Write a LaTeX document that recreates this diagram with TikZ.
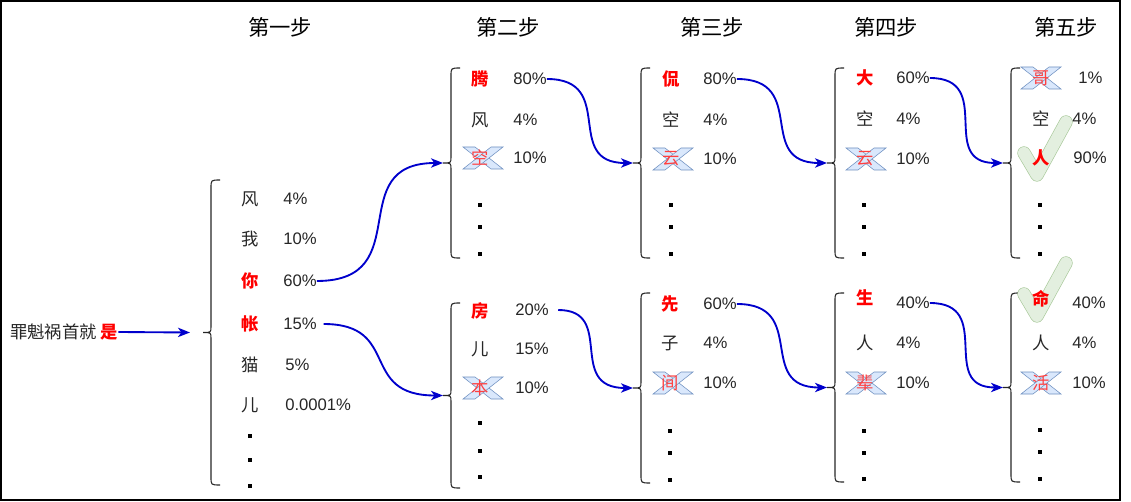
\documentclass[tikz,border=0pt]{standalone}
\usepackage{fontspec}
\setmainfont{Liberation Sans}
\newfontfamily\cjk{Noto Sans CJK SC}
\usetikzlibrary{arrows.meta}
\definecolor{linkblue}{HTML}{0000CC}
\definecolor{xfill}{HTML}{DAE8FC}
\definecolor{xline}{HTML}{6C8EBF}
\definecolor{okfill}{HTML}{E3EFDF}
\definecolor{okline}{HTML}{A9C99B}
\tikzset{
	head/.style={font=\cjk\fontsize{16}{16}\selectfont, inner sep=0},
	word/.style={font=\cjk\fontsize{13}{13}\selectfont, inner sep=0, text=black!85},
	hit/.style={word, text=red, font=\cjk\bfseries\fontsize{13}{13}\selectfont},
	gone/.style={word, text=red!75},
	pct/.style={font=\fontsize{12.5}{12.5}\selectfont, anchor=west, inner sep=0, text=black!85},
	dot/.style={fill=black, inner sep=0, minimum size=3pt},
	brc/.style={line width=0.8pt, black!85},
	link/.style={linkblue, line width=1.4pt, looseness=1.5, -{Stealth[length=9pt,width=7pt,inset=2.5pt]}},
	xband/.pic={
		\filldraw[fill=xfill, draw=xline, line width=0.4pt] (-20,-11) -- (-8,-11) -- (20,11) -- (8,11) -- cycle;
		\filldraw[fill=xfill, draw=xline, line width=0.4pt] (20,-11) -- (8,-11) -- (-20,11) -- (-8,11) -- cycle;
	},
	tick/.pic={
		\draw[okline, line width=10pt, line cap=round, line join=round] (-17,-5) -- (-4,17) -- (25,-36);
		\draw[okfill, line width=9pt, line cap=round, line join=round] (-17,-5) -- (-4,17) -- (25,-36);
	}
}
% left curly brace: tip name, x of line, top y, bottom y
\newcommand{\curly}[4]{%
	\draw[brc] (#2+9,#3) .. controls (#2,#3) .. (#2,#3+8) -- (#2,{(#3+#4)/2-6})
		.. controls (#2,{(#3+#4)/2}) .. (#2-8,{(#3+#4)/2})
		.. controls (#2,{(#3+#4)/2}) .. (#2,{(#3+#4)/2+6}) -- (#2,#4-8)
		.. controls (#2,#4) .. (#2+9,#4);
	\coordinate (#1) at (#2-8,{(#3+#4)/2});}
\begin{document}
\begin{tikzpicture}[x=0.75pt,y=-0.75pt]
	\useasboundingbox (0,0) rectangle (1131,502);
	\draw[line width=1.1pt] (1,1) rectangle (1120,500);
	% headings
	\node[head] (h1) at (280,27) {第一步};
	\node[head] (h2) at (508,27) {第二步};
	\node[head] (h3) at (712,27) {第三步};
	\node[head] (h4) at (886,27) {第四步};
	\node[head] (h5) at (1066,27) {第五步};
	% input
	\node[word, anchor=west] (sent) at (10,332) {罪魁祸首就 {\bfseries\color{red}是}};
	\coordinate (in1) at (190,332.5);
	\draw[link] (sent.east) -- (in1);
	% step 1
	\curly{b1}{211}{180}{485}
	\node[word] (s1a) at (250,199) {风};   \node[pct] (p1a) at (283,199) {4\%};
	\node[word] (s1b) at (250,239) {我};   \node[pct] (p1b) at (283,239) {10\%};
	\node[hit] (s1c) at (250,281) {你};    \node[pct] (p1c) at (283,281) {60\%};
	\node[hit] (s1d) at (250,324) {帐};    \node[pct] (p1d) at (283,324) {15\%};
	\node[word] (s1e) at (250,365) {猫};   \node[pct] (p1e) at (285,365) {5\%};
	\node[word] (s1f) at (250,405) {儿};   \node[pct] (p1f) at (285,405) {0.0001\%};
	\foreach \y [count=\i] in {436,460,486} \node[dot] (d1-\i) at (250,\y) {};
	% step 2
	\curly{b2t}{451}{68}{258}
	\node[hit] (s2a) at (480,79) {腾};     \node[pct] (p2a) at (513,79) {80\%};
	\node[word] (s2b) at (480,120) {风};   \node[pct] (p2b) at (513,120) {4\%};
	\pic at (483,158) {xband};
	\node[gone] (s2c) at (480,158) {空};   \node[pct] (p2c) at (513,158) {10\%};
	\foreach \y [count=\i] in {205,227,254} \node[dot] (d2t-\i) at (480,\y) {};
	\curly{b2b}{451}{303}{488}
	\node[hit] (s2d) at (480,311) {房};    \node[pct] (p2d) at (515,310) {20\%};
	\node[word] (s2e) at (480,349) {儿};   \node[pct] (p2e) at (515,349) {15\%};
	\pic at (483,388) {xband};
	\node[gone] (s2f) at (480,388) {本};   \node[pct] (p2f) at (515,388) {10\%};
	\foreach \y [count=\i] in {423,451,477} \node[dot] (d2b-\i) at (480,\y) {};
	\draw[link] (p1c.east) to[out=0,in=180] (b2t);
	\draw[link, shorten <=5pt] (p1d.east) to[out=0,in=180] (b2b);
	% step 3
	\curly{b3t}{641}{68}{258}
	\node[hit] (s3a) at (671,79) {侃};     \node[pct] (p3a) at (703,79) {80\%};
	\node[word] (s3b) at (671,120) {空};   \node[pct] (p3b) at (703,120) {4\%};
	\pic at (673,159) {xband};
	\node[gone] (s3c) at (671,159) {云};   \node[pct] (p3c) at (703,159) {10\%};
	\foreach \y [count=\i] in {205,227,254} \node[dot] (d3t-\i) at (671,\y) {};
	\curly{b3b}{641}{293}{483}
	\node[hit] (s3d) at (670,304) {先};    \node[pct] (p3d) at (703,304) {60\%};
	\node[word] (s3e) at (670,343) {子};   \node[pct] (p3e) at (703,343) {4\%};
	\pic at (673,383) {xband};
	\node[gone] (s3f) at (670,383) {间};   \node[pct] (p3f) at (703,383) {10\%};
	\foreach \y [count=\i] in {431,453,480} \node[dot] (d3b-\i) at (670,\y) {};
	\draw[link] (p2a.east) to[out=0,in=180] (b3t);
	\draw[link, shorten <=7pt] (p2d.east) to[out=0,in=180] (b3b);
	% step 4
	\curly{b4t}{835}{68}{258}
	\node[hit] (s4a) at (865,78) {大};     \node[pct] (p4a) at (896,78) {60\%};
	\node[word] (s4b) at (865,119) {空};   \node[pct] (p4b) at (896,119) {4\%};
	\pic at (866,159) {xband};
	\node[gone] (s4c) at (865,159) {云};   \node[pct] (p4c) at (896,159) {10\%};
	\foreach \y [count=\i] in {205,227,254} \node[dot] (d4t-\i) at (864,\y) {};
	\curly{b4b}{835}{293}{482}
	\node[hit] (s4d) at (865,298) {生};    \node[pct] (p4d) at (896,303) {40\%};
	\node[word] (s4e) at (865,343) {人};   \node[pct] (p4e) at (896,343) {4\%};
	\pic at (866,383) {xband};
	\node[gone] (s4f) at (865,383) {辈};   \node[pct] (p4f) at (896,383) {10\%};
	\foreach \y [count=\i] in {431,453,479} \node[dot] (d4b-\i) at (864,\y) {};
	\draw[link] (p3a.east) to[out=0,in=180] (b4t);
	\draw[link] (p3d.east) to[out=0,in=180] (b4b);
	% step 5
	\curly{b5t}{1011}{68}{258}
	\pic at (1041,78) {xband};
	\node[gone] (s5a) at (1041,78) {哥};   \node[pct] (p5a) at (1078,78) {1\%};
	\pic at (1041,158) {tick};
	\node[word] (s5b) at (1041,119) {空};  \node[pct] (p5b) at (1072,119) {4\%};
	\node[hit] (s5c) at (1041,158) {人};   \node[pct] (p5c) at (1073,158) {90\%};
	\foreach \y [count=\i] in {205,227,254} \node[dot] (d5t-\i) at (1040,\y) {};
	\curly{b5b}{1011}{293}{482}
	\pic at (1041,299) {tick};
	\node[hit] (s5d) at (1041,299) {命};   \node[pct] (p5d) at (1072,303) {40\%};
	\node[word] (s5e) at (1041,343) {人};  \node[pct] (p5e) at (1072,343) {4\%};
	\pic at (1041,383) {xband};
	\node[gone] (s5f) at (1041,383) {活};  \node[pct] (p5f) at (1072,383) {10\%};
	\foreach \y [count=\i] in {430,452,479} \node[dot] (d5b-\i) at (1040,\y) {};
	\draw[link] (p4a.east) to[out=0,in=180] (b5t);
	\draw[link] (p4d.east) to[out=0,in=180] (b5b);
\end{tikzpicture}
\end{document}
